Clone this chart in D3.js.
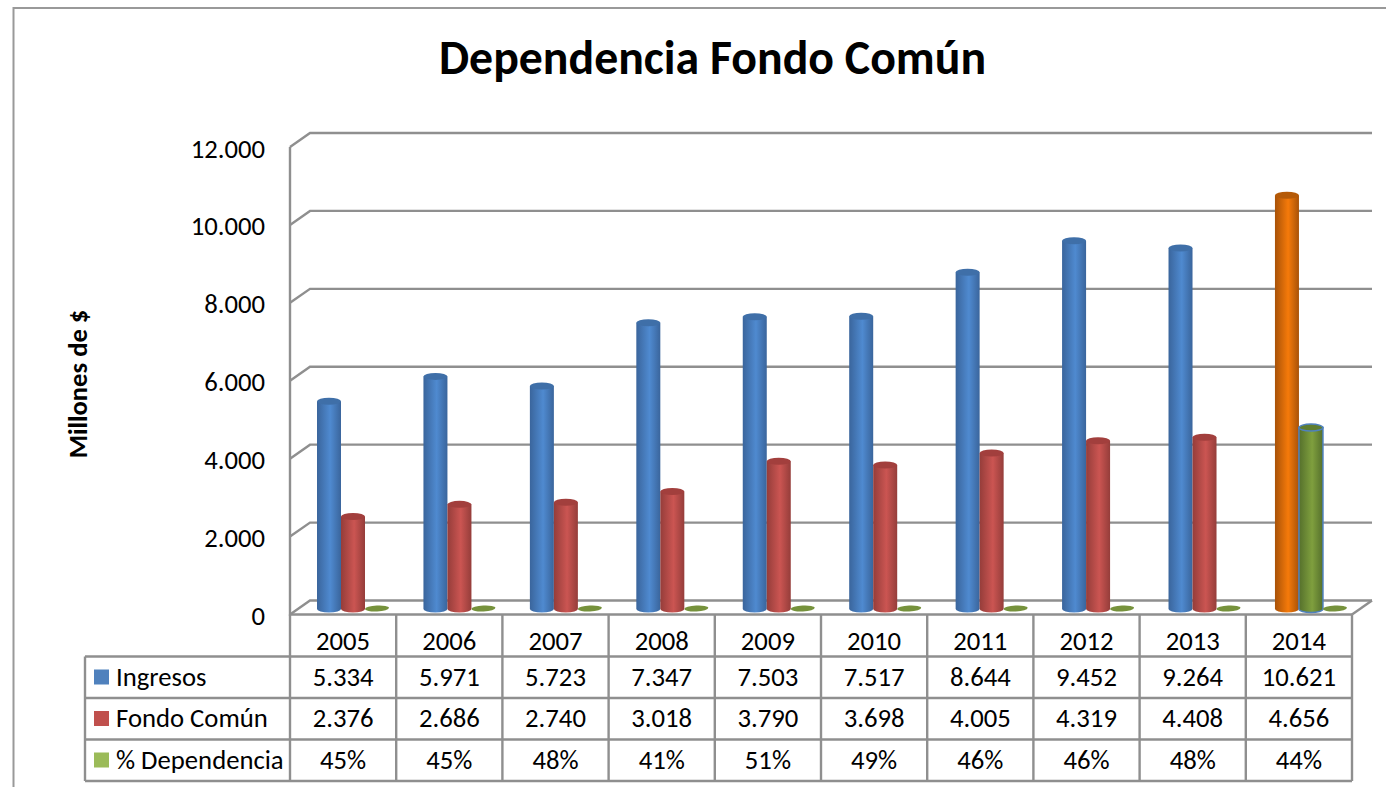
<!DOCTYPE html>
<html>
<head>
<meta charset="utf-8">
<script src="https://cdn.jsdelivr.net/npm/d3@7"></script>
<style>
  html, body { margin: 0; padding: 0; background: #fff; overflow: hidden; }
  text { font-family: Carlito, "Liberation Sans", "Open Sans", sans-serif; fill: #000; }
</style>
</head>
<body>
<div id="viz"></div>
<script>
var years = ["2005", "2006", "2007", "2008", "2009", "2010", "2011", "2012", "2013", "2014"];
var ingresos = [5334, 5971, 5723, 7347, 7503, 7517, 8644, 9452, 9264, 10621];
var fondoComun = [2376, 2686, 2740, 3018, 3790, 3698, 4005, 4319, 4408, 4656];
var dependencia = [45, 45, 48, 41, 51, 49, 46, 46, 48, 44];
var yTicks = [0, 2000, 4000, 6000, 8000, 10000, 12000];
var seriesNames = ["Ingresos", "Fondo Común", "% Dependencia"];
var seriesColors = ["#4f81bd", "#c0504d", "#9bbb59"];

var W = 1391, H = 787;
var gridColor = "#8f8f8f";
var fmt = function(v) { return d3.format(",")(v).replace(/,/g, "."); };

var svg = d3.select("#viz").append("svg").attr("width", W).attr("height", H);
var defs = svg.append("defs");

function cylGrad(id, edge, mid) {
  var g = defs.append("linearGradient").attr("id", id);
  g.append("stop").attr("offset", "0%").attr("stop-color", edge);
  g.append("stop").attr("offset", "55%").attr("stop-color", mid);
  g.append("stop").attr("offset", "100%").attr("stop-color", edge);
}
cylGrad("gBlue", "#3a659c", "#4f8ad0");
cylGrad("gRed", "#953d3a", "#cb5552");
cylGrad("gOrange", "#a85208", "#f57a0a");
cylGrad("gGreen", "#55702c", "#7f9f3e");

// outer frame
svg.append("path")
  .attr("d", "M13.5," + H + "V8H1386")
  .attr("fill", "none").attr("stroke", "#999").attr("stroke-width", 2);

svg.append("text").attr("x", 712.5).attr("y", 74)
  .attr("text-anchor", "middle").attr("font-size", 47.8).attr("font-weight", "bold")
  .text("Dependencia Fondo Común");

svg.append("text").attr("transform", "translate(87,384) rotate(-90)")
  .attr("text-anchor", "middle").attr("font-size", 26.6).attr("font-weight", "bold")
  .text("Millones de $");

// scales
var x = d3.scaleBand().domain(years).range([290, 1352]);
var xBars = d3.scaleBand().domain(years).range([317, 1381.4]);
var yFront = d3.scaleLinear().domain([0, 12000]).range([614.5, 147]);
var depthX = 20, depthY = -14;
var baseOffset = yFront(0) - 5.5;
var yBar = function(v) { return baseOffset - (yFront(0) - yFront(v)); };

// walls and gridlines
var grid = svg.append("g").attr("fill", "none").attr("stroke", gridColor).attr("stroke-width", 2.4);
yTicks.forEach(function(t) {
  var yf = yFront(t);
  grid.append("path")
    .attr("d", "M" + x.range()[0] + "," + yf + "l" + depthX + "," + depthY + "H" + (x.range()[1] + depthX));
});
grid.append("path").attr("d", "M" + x.range()[1] + "," + yFront(0) + "l" + depthX + "," + depthY);
grid.append("path").attr("d", "M290," + yFront(12000) + "V" + yFront(0) + "H" + x.range()[1]);

svg.append("g").selectAll("text").data(yTicks).enter().append("text")
  .attr("x", 265).attr("y", function(d) { return yFront(d) + 10.5; })
  .attr("text-anchor", "end").attr("font-size", 26.7)
  .text(function(d) { return fmt(d); });

// bars
var barW = 24, capRy = 3.5;
function cylinder(g, cx, v, fill, capFill, stroke) {
  var top = yBar(v), rx = barW / 2;
  var d = "M" + (cx - rx) + "," + top + "V" + baseOffset +
    "A" + rx + "," + capRy + " 0 0 0 " + (cx + rx) + "," + baseOffset + "V" + top + "Z";
  g.append("path").attr("d", d).attr("fill", fill).attr("stroke", stroke || "none").attr("stroke-width", stroke ? 1.5 : 0);
  g.append("ellipse").attr("cx", cx).attr("cy", top).attr("rx", rx).attr("ry", capRy)
    .attr("fill", capFill).attr("stroke", stroke || "none").attr("stroke-width", stroke ? 1.5 : 0);
}
var bars = svg.append("g");
years.forEach(function(yr, i) {
  var x0 = xBars(yr);
  var last = i === years.length - 1;
  var g = bars.append("g");
  cylinder(g, x0 + barW / 2, ingresos[i], last ? "url(#gOrange)" : "url(#gBlue)", last ? "#b55a08" : "#3f6fa8");
  cylinder(g, x0 + barW * 1.5, fondoComun[i], last ? "url(#gGreen)" : "url(#gRed)", last ? "#5f7d30" : "#a23f3d", last ? "#4f81bd" : null);
  // % values are tiny on this scale, they collapse to a flat disc
  g.append("ellipse").attr("cx", x0 + barW * 2.5).attr("cy", yBar(dependencia[i] / 100) - 0.5)
    .attr("rx", barW / 2).attr("ry", 3).attr("fill", "#76923c")
    .attr("transform", "rotate(-3," + (x0 + barW * 2.5) + "," + (baseOffset - 0.5) + ")");
});

// data table
var rowY = d3.scaleBand().domain(["head"].concat(seriesNames)).range([615, 781]);
var rows = [ingresos.map(fmt), fondoComun.map(fmt), dependencia.map(function(d) { return d + "%"; })];
var tableLeft = 85;
var tg = svg.append("g").attr("fill", "none").attr("stroke", gridColor).attr("stroke-width", 2.4);
seriesNames.concat(["end"]).forEach(function(n, i) {
  var yy = rowY.range()[0] + rowY.step() * (i + 1);
  tg.append("line").attr("x1", tableLeft).attr("x2", x.range()[1]).attr("y1", yy).attr("y2", yy);
});
tg.append("line").attr("x1", tableLeft).attr("x2", tableLeft).attr("y1", rowY("Ingresos")).attr("y2", rowY.range()[1]);
years.concat(["end"]).forEach(function(yr, i) {
  var xx = x.range()[0] + x.step() * i;
  tg.append("line").attr("x1", xx).attr("x2", xx).attr("y1", yFront(0)).attr("y2", rowY.range()[1]);
});

var textG = svg.append("g").attr("text-anchor", "middle").attr("font-size", 26.7);
years.forEach(function(yr, i) {
  var cx = x(yr) + x.bandwidth() / 2;
  textG.append("text").attr("x", cx).attr("y", rowY("head") + 35).text(yr);
  rows.forEach(function(r, j) {
    textG.append("text").attr("x", cx).attr("y", rowY(seriesNames[j]) + 29).text(r[i]);
  });
});
seriesNames.forEach(function(n, j) {
  svg.append("rect").attr("x", 94).attr("y", rowY(n) + 13).attr("width", 15).attr("height", 15)
    .attr("fill", seriesColors[j]);
  svg.append("text").attr("x", 116).attr("y", rowY(n) + 29).attr("font-size", 26.7).text(n);
});
</script>
</body>
</html>
